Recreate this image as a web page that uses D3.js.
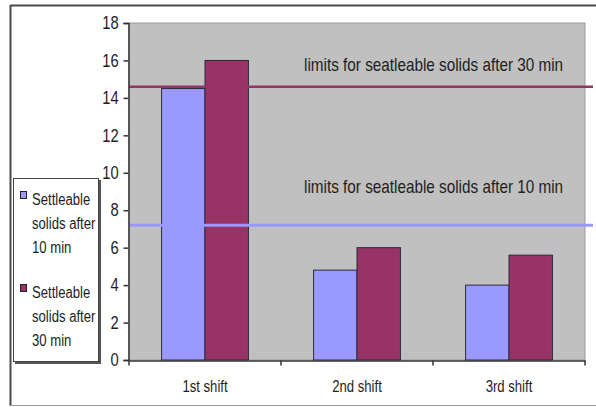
<!DOCTYPE html>
<html>
<head>
<meta charset="utf-8">
<script src="https://cdn.jsdelivr.net/npm/d3@7/dist/d3.min.js"></script>
<style>
html,body{margin:0;padding:0;background:#fff;}
svg{display:block;}
text{font-family:'Liberation Sans',Arial,sans-serif;fill:#1e1e1e;}
</style>
</head>
<body>
<svg id="chart" width="596" height="407"></svg>
<script>
const categories = ["1st shift", "2nd shift", "3rd shift"];
const seriesNames = ["Settleable solids after 10 min", "Settleable solids after 30 min"];
const after10 = [14.5, 4.8, 4.0];
const after30 = [16.0, 6.0, 5.6];
const limitValues = [14.6, 7.2];
const limitLabels = ["limits for seatleable solids after 30 min", "limits for seatleable solids after 10 min"];
const yTicks = [0, 2, 4, 6, 8, 10, 12, 14, 16, 18];
const legendLines = [["Settleable", "solids after", "10 min"], ["Settleable", "solids after", "30 min"]];
const colors = ["#9999FF", "#993366"];

const svg = d3.select("#chart");
const pLeft = 129, pRight = 585, pTop = 23, pBottom = 360;
const narrow = 0.82;

function label(parent, tx, ty, size, sx, str) {
  return parent.append("text")
    .attr("transform", `translate(${tx},${ty}) scale(${sx},1)`)
    .attr("font-size", size).text(str);
}

// outer frame
svg.append("line").attr("x1", 10.5).attr("x2", 596).attr("y1", 5.5).attr("y2", 5.5).attr("stroke", "#4a4a4a").attr("stroke-width", 2);
svg.append("line").attr("x1", 10.5).attr("x2", 10.5).attr("y1", 5).attr("y2", 406).attr("stroke", "#4a4a4a").attr("stroke-width", 2);
svg.append("line").attr("x1", 10).attr("x2", 596).attr("y1", 405.5).attr("y2", 405.5).attr("stroke", "#9a9a9a").attr("stroke-width", 1);

const x = d3.scaleBand().domain(categories).range([pLeft, pRight]).padding(0);
const xs = d3.scaleBand().domain([0, 1]).range([0, x.bandwidth()]).paddingInner(0).paddingOuter(0.75);
const y = d3.scaleLinear().domain([0, 18]).range([pBottom, pTop]);

// plot area
svg.append("rect").attr("x", pLeft).attr("y", pTop).attr("width", pRight - pLeft).attr("height", pBottom - pTop)
  .attr("fill", "#C0C0C0").attr("stroke", "#9a9a9a").attr("stroke-width", 1);

// bars
const data = [];
categories.forEach((c, i) => {
  [after10[i], after30[i]].forEach((v, s) => data.push({c, s, v}));
});
svg.append("g").selectAll("rect").data(data).join("rect")
  .attr("x", d => x(d.c) + xs(d.s))
  .attr("y", d => y(d.v))
  .attr("width", xs.bandwidth())
  .attr("height", d => y(0) - y(d.v))
  .attr("fill", d => colors[d.s])
  .attr("stroke", "#2a2a3a").attr("stroke-width", 1);

// limit lines
svg.append("line").attr("x1", pLeft).attr("x2", 593).attr("y1", y(limitValues[0])).attr("y2", y(limitValues[0]))
  .attr("stroke", "#993366").attr("stroke-width", 2.5);
svg.append("line").attr("x1", pLeft).attr("x2", 593).attr("y1", y(limitValues[1])).attr("y2", y(limitValues[1]))
  .attr("stroke", "#9999FF").attr("stroke-width", 3);

// limit labels
label(svg, 304, 71, 18, 0.85, limitLabels[0]);
label(svg, 304, 193, 18, 0.85, limitLabels[1]);

// y axis
const ya = svg.append("g").attr("transform", `translate(${pLeft - 0.5},0)`)
  .call(d3.axisLeft(y).tickValues(yTicks).tickSize(5).tickPadding(7).tickFormat(d3.format("d")));
ya.select(".domain").attr("stroke", "#333").attr("stroke-width", 1.5);
ya.selectAll(".tick line").attr("stroke", "#333").attr("stroke-width", 1.5);
ya.selectAll(".tick text").attr("font-size", 18).attr("fill", "#1e1e1e").attr("font-family", null)
  .attr("transform", `scale(${narrow},1)`);

// x axis
const xa = svg.append("g").attr("transform", `translate(0,${pBottom + 0.5})`)
  .call(d3.axisBottom(x).tickSize(0).tickPadding(20));
xa.select(".domain").attr("stroke", "#333").attr("stroke-width", 1.5);
xa.selectAll(".tick text").attr("font-size", 16).attr("fill", "#1e1e1e").attr("font-family", null)
  .attr("transform", `scale(${narrow},1)`);
const bounds = [pLeft, ...categories.map(c => x(c) + x.bandwidth())];
xa.selectAll(".bnd").data(bounds).join("line").attr("class", "bnd")
  .attr("x1", d => d).attr("x2", d => d).attr("y1", 0).attr("y2", 5)
  .attr("stroke", "#333").attr("stroke-width", 1.5);

// legend
const lg = svg.append("g");
lg.append("rect").attr("x", 15).attr("y", 180).attr("width", 86).attr("height", 184).attr("fill", "#555");
lg.append("rect").attr("x", 13.5).attr("y", 178.5).attr("width", 85).attr("height", 183).attr("fill", "#fff").attr("stroke", "#444").attr("stroke-width", 1);
const itemTop = [191, 284];
legendLines.forEach((lines, i) => {
  lg.append("rect").attr("x", 20.5).attr("y", itemTop[i] + 0.5).attr("width", 6).attr("height", 7)
    .attr("fill", colors[i]).attr("stroke", "#222").attr("stroke-width", 1);
  lines.forEach((t, j) => {
    label(lg, 32, itemTop[i] + 14 + j * 24, 16, narrow, t);
  });
});
</script>
</body>
</html>
